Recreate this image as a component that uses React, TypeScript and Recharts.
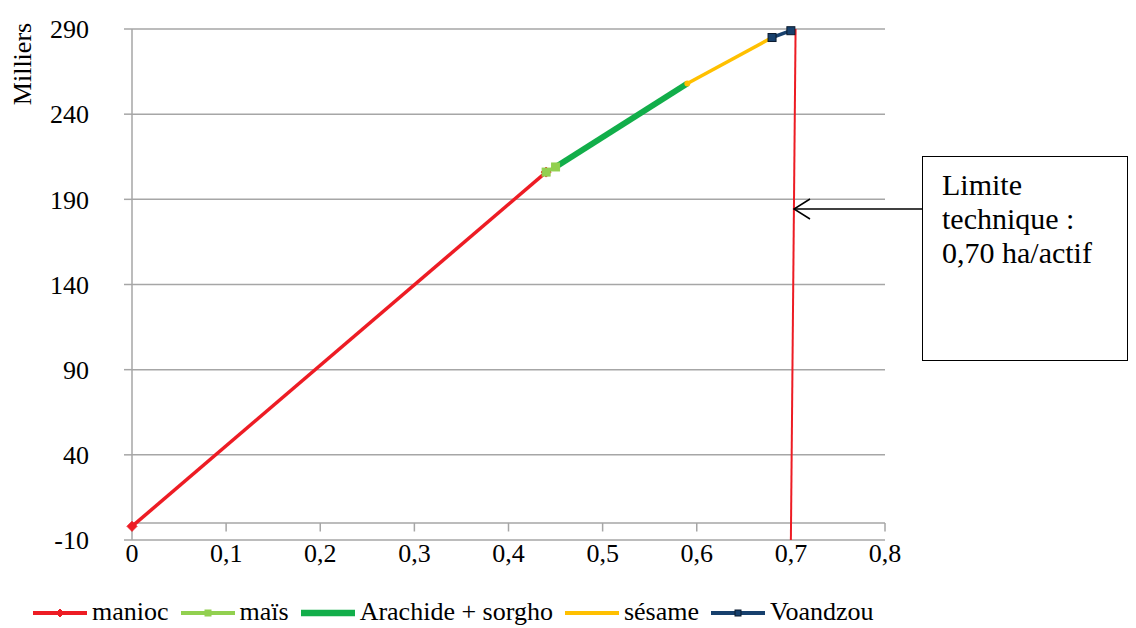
import { LineChart, Line, XAxis, YAxis, CartesianGrid, Legend, ReferenceLine } from "recharts";

const SERIF = "Liberation Serif";

// values (x = ha/actif, y = milliers)
const maniocX = [0, 0.44];
const maniocY = [-2, 206];
const maisX = [0.44, 0.45];
const maisY = [206, 209];
const arachideX = [0.45, 0.59];
const arachideY = [209, 258];
const sesameX = [0.59, 0.68];
const sesameY = [258, 285];
const voandzouX = [0.68, 0.7];
const voandzouY = [285, 289];
const limiteX = [0.705, 0.7];
const limiteY = [290, -10];

const xTicks = [0, 0.1, 0.2, 0.3, 0.4, 0.5, 0.6, 0.7, 0.8];
const yTicks = [-10, 40, 90, 140, 190, 240, 290];

const toPoints = (xs: number[], ys: number[]) => xs.map((x, i) => ({ x, y: ys[i] }));

type Marker = "diamond" | "square" | "circle" | "none";

const SERIES: {
  name: string;
  data: { x: number; y: number }[];
  color: string;
  width: number;
  marker: Marker;
  size: number;
  edge?: string;
}[] = [
  { name: "manioc", data: toPoints(maniocX, maniocY), color: "#ED1C24", width: 3.5, marker: "diamond", size: 5 },
  { name: "maïs", data: toPoints(maisX, maisY), color: "#92D050", width: 3.5, marker: "square", size: 4 },
  { name: "Arachide + sorgho", data: toPoints(arachideX, arachideY), color: "#12AE4A", width: 6, marker: "none", size: 0 },
  { name: "sésame", data: toPoints(sesameX, sesameY), color: "#FFC000", width: 3.5, marker: "circle", size: 3 },
  { name: "Voandzou", data: toPoints(voandzouX, voandzouY), color: "#17406D", width: 3.5, marker: "square", size: 4, edge: "#0b1a2e" },
];

function drawMarker(m: Marker, cx: number, cy: number, s: number, fill: string, edge?: string, key?: string | number) {
  if (m === "none") return <g key={key} />;
  if (m === "square")
    return <rect key={key} x={cx - s} y={cy - s} width={s * 2} height={s * 2} fill={fill} stroke={edge ?? fill} strokeWidth={1} />;
  if (m === "diamond")
    return (
      <path key={key} d={`M${cx},${cy - s} L${cx + s},${cy} L${cx},${cy + s} L${cx - s},${cy} Z`} fill={fill} stroke={fill} />
    );
  return <circle key={key} cx={cx} cy={cy} r={s} fill={fill} />;
}

function LegendBox() {
  return (
    <div style={{ display: "flex", alignItems: "center", paddingLeft: 33, height: 32, fontFamily: SERIF, fontSize: 26, lineHeight: "26px", color: "#000" }}>
      {SERIES.map((s) => (
        <div key={s.name} style={{ display: "flex", alignItems: "center", marginRight: 12 }}>
          <svg width={54} height={14} style={{ marginRight: 5, marginTop: 2 }}>
            <line x1={0} y1={7} x2={54} y2={7} stroke={s.color} strokeWidth={s.width + 0.5} />
            {drawMarker(s.marker, 27, 7, Math.max(s.size - 1, 2), s.color, s.edge)}
          </svg>
          <span>{s.name}</span>
        </div>
      ))}
    </div>
  );
}

const MilliersLabel = () => (
  <text x={22} y={64} transform="rotate(-90, 22, 64)" textAnchor="middle" dominantBaseline="central" fontFamily={SERIF} fontSize={26} fill="#000">
    Milliers
  </text>
);

export default function App() {
  return (
    <div style={{ position: "absolute", left: 0, top: 0, width: 1136, height: 628, background: "#fff" }}>
      <LineChart width={1136} height={628} margin={{ top: 29, right: 251, left: 0, bottom: 0 }} style={{ fontFamily: SERIF }}>
        <CartesianGrid stroke="#A6A6A6" strokeWidth={1.5} vertical={false} />
        <XAxis
          type="number"
          dataKey="x"
          domain={[0, 0.8]}
          ticks={xTicks}
          tickFormatter={(v: number) => String(v).replace(".", ",")}
          tick={{ fontSize: 26, fill: "#000", fontFamily: SERIF }}
          axisLine={false}
          tickLine={false}
          tickSize={4}
          tickMargin={0}
          height={56}
          allowDuplicatedCategory={false}
        />
        <YAxis
          type="number"
          dataKey="y"
          domain={[-10, 290]}
          ticks={yTicks}
          interval={0}
          tick={{ fontSize: 26, fill: "#000", fontFamily: SERIF }}
          stroke="#A6A6A6"
          strokeWidth={1.5}
          tickSize={8}
          tickMargin={35}
          width={132}
          label={{ content: MilliersLabel }}
        />
        <Legend verticalAlign="bottom" align="left" content={() => <LegendBox />} wrapperStyle={{ height: 32, left: 0, width: 1136 }} />
        {/* horizontal axis crosses at 0, with its tick marks */}
        <ReferenceLine y={0} stroke="#A6A6A6" strokeWidth={1.5} />
        {xTicks.map((t) => (
          <ReferenceLine
            key={`tk-${t}`}
            segment={[
              { x: t, y: 0 },
              { x: t, y: -5 },
            ]}
            stroke="#A6A6A6"
            strokeWidth={1.5}
          />
        ))}
        <Line
          data={toPoints(limiteX, limiteY)}
          dataKey="y"
          name="limite"
          stroke="#ED1C24"
          strokeWidth={2}
          dot={false}
          legendType="none"
          isAnimationActive={false}
        />
        {SERIES.map((s) => (
          <Line
            key={s.name}
            data={s.data}
            dataKey="y"
            name={s.name}
            stroke={s.color}
            strokeWidth={s.width}
            isAnimationActive={false}
            dot={(p: any) => drawMarker(s.marker, p.cx, p.cy, s.size, s.color, s.edge, `${s.name}-${p.index}`)}
            activeDot={false}
          />
        ))}
      </LineChart>

      {/* annotation: technical limit */}
      <svg style={{ position: "absolute", left: 0, top: 0, pointerEvents: "none" }} width={1136} height={628}>
        <line x1={923} y1={209} x2={794} y2={209} stroke="#000" strokeWidth={1.5} />
        <path d="M810,199 L794,209 L810,219" fill="none" stroke="#000" strokeWidth={1.5} />
      </svg>
      <div
        style={{
          position: "absolute",
          left: 922,
          top: 156,
          width: 206,
          height: 205,
          border: "1.5px solid #000",
          background: "#fff",
          fontFamily: SERIF,
          fontSize: 30,
          lineHeight: "34px",
          padding: "11px 0 0 19px",
          boxSizing: "border-box",
          color: "#000",
        }}
      >
        Limite
        <br />
        technique :
        <br />
        0,70 ha/actif
      </div>
    </div>
  );
}
